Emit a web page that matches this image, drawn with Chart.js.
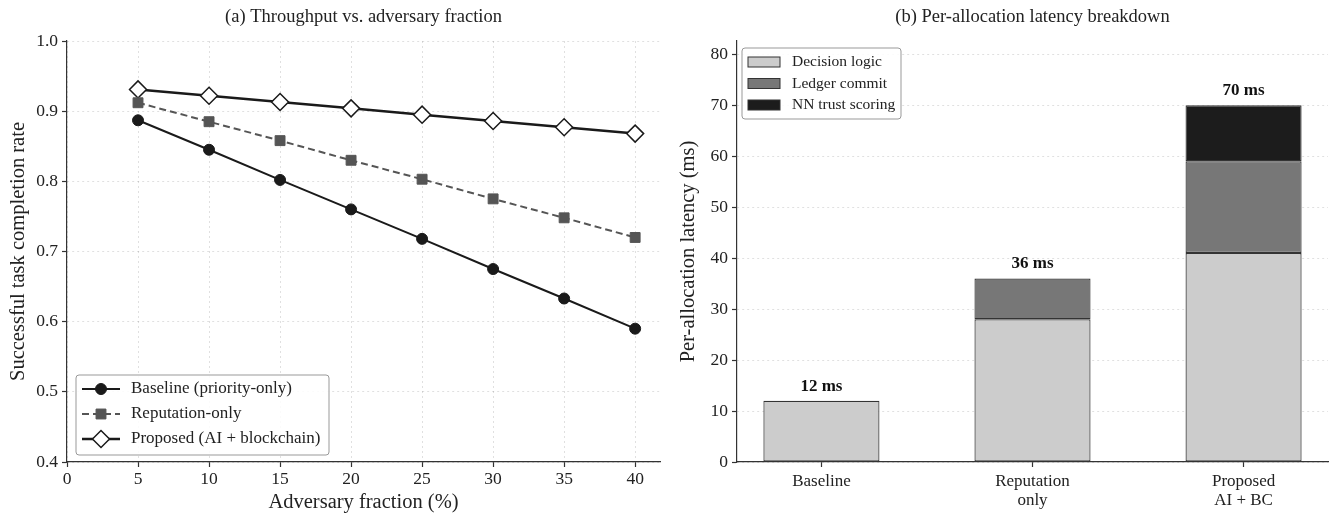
<!DOCTYPE html>
<html>
<head>
<meta charset="utf-8">
<script src="https://cdn.jsdelivr.net/npm/chart.js@4.4.1/dist/chart.umd.min.js"></script>
<style>
  html, body { margin: 0; padding: 0; background: #fff; }
  #wrap { position: relative; width: 1329px; height: 517px; }
  #left { position: absolute; left: 0; top: 0; }
  #right { position: absolute; left: 670px; top: 0; }
</style>
</head>
<body>
<div id="wrap">
  <canvas id="left" width="670" height="517"></canvas>
  <canvas id="right" width="659" height="517"></canvas>
</div>
<script>
// panel (a): completion rate vs adversary fraction
const adversaryPct = [5, 10, 15, 20, 25, 30, 35, 40];
const baselineRate = [0.887, 0.845, 0.802, 0.760, 0.718, 0.675, 0.633, 0.590];
const reputationRate = [0.912, 0.885, 0.858, 0.830, 0.803, 0.775, 0.748, 0.720];
const proposedRate = [0.931, 0.922, 0.913, 0.904, 0.895, 0.886, 0.877, 0.868];

// panel (b): latency breakdown (ms)
const methods = [['Baseline'], ['Reputation', 'only'], ['Proposed', 'AI + BC']];
const decisionMs = [12, 28, 41];
const ledgerMs = [0, 8, 18];
const nnMs = [0, 0, 11];

Chart.defaults.font.family = "'Liberation Serif', 'Times New Roman', serif";
Chart.defaults.color = '#222';
Chart.defaults.animation = false;

const AXIS = '#333';
const GRID = 'rgba(0,0,0,0.12)';
const SERIF = "'Liberation Serif', serif";

const toXY = (xs, ys) => xs.map((x, i) => ({ x: x, y: ys[i] }));

// legend drawn inside the plot, lower left
const lineLegend = {
  id: 'lineLegend',
  afterDraw(chart) {
    const ctx = chart.ctx;
    const a = chart.chartArea;
    const x0 = a.left + 9, y0 = a.bottom - 87, w = 253, h = 80;
    ctx.save();
    ctx.fillStyle = 'rgba(255,255,255,0.85)';
    ctx.strokeStyle = '#999';
    ctx.lineWidth = 1;
    ctx.beginPath();
    ctx.roundRect(x0, y0, w, h, 3);
    ctx.fill();
    ctx.stroke();
    chart.data.datasets.forEach((ds, i) => {
      const y = y0 + 14 + i * 25;
      ctx.strokeStyle = ds.borderColor;
      ctx.lineWidth = ds.borderWidth;
      ctx.setLineDash(ds.borderDash || []);
      ctx.beginPath();
      ctx.moveTo(x0 + 6, y);
      ctx.lineTo(x0 + 44, y);
      ctx.stroke();
      ctx.setLineDash([]);
      ctx.fillStyle = ds.pointBackgroundColor;
      ctx.strokeStyle = ds.pointBorderColor;
      ctx.lineWidth = ds.pointBorderWidth;
      Chart.helpers.drawPoint(ctx, {
        pointStyle: ds.pointStyle, radius: ds.pointRadius,
        rotation: 0, borderWidth: ds.pointBorderWidth
      }, x0 + 25, y);
      ctx.fillStyle = '#222';
      ctx.font = '17px ' + SERIF;
      ctx.textBaseline = 'middle';
      ctx.fillText(ds.label, x0 + 55, y);
    });
    ctx.restore();
  }
};

new Chart(document.getElementById('left'), {
  type: 'line',
  data: {
    datasets: [
      {
        label: 'Baseline (priority-only)',
        data: toXY(adversaryPct, baselineRate),
        borderColor: '#1a1a1a', borderWidth: 2,
        pointStyle: 'circle', pointRadius: 5.5,
        pointBackgroundColor: '#1a1a1a', pointBorderColor: '#1a1a1a', pointBorderWidth: 1
      },
      {
        label: 'Reputation-only',
        data: toXY(adversaryPct, reputationRate),
        borderColor: '#555', borderWidth: 2, borderDash: [7, 4],
        pointStyle: 'rect', pointRadius: 7,
        pointBackgroundColor: '#555', pointBorderColor: '#555', pointBorderWidth: 1
      },
      {
        label: 'Proposed (AI + blockchain)',
        data: toXY(adversaryPct, proposedRate),
        borderColor: '#1a1a1a', borderWidth: 2.5,
        pointStyle: 'rectRot', pointRadius: 8.5,
        pointBackgroundColor: '#fff', pointBorderColor: '#1a1a1a', pointBorderWidth: 1.5
      }
    ]
  },
  options: {
    responsive: false,
    layout: { padding: { left: 0, right: 8, top: 0, bottom: 0 } },
    plugins: {
      legend: { display: false },
      tooltip: { enabled: false },
      title: {
        display: true, fullSize: false,
        text: '(a) Throughput vs. adversary fraction',
        font: { size: 18.5, weight: 'normal' }, color: '#222',
        padding: { top: 6, bottom: 12.8 }
      }
    },
    scales: {
      x: {
        type: 'linear', min: 0, max: 41.75,
        afterFit: s => { s.height = 55; },
        ticks: { stepSize: 5, includeBounds: false, padding: 2, font: { size: 17.5 }, color: '#222' },
        grid: { color: GRID, lineWidth: 1, tickColor: AXIS, tickLength: 5, tickWidth: 1.2 },
        border: { color: AXIS, width: 1.2, dash: [2, 3] },
        title: { display: true, text: 'Adversary fraction (%)', font: { size: 20.5 }, padding: { bottom: 2 } }
      },
      y: {
        min: 0.4, max: 1.0,
        afterFit: s => { s.width = 67; },
        ticks: { stepSize: 0.1, padding: 4, font: { size: 17.5 }, color: '#222', callback: v => v.toFixed(1) },
        grid: { color: GRID, lineWidth: 1, tickColor: AXIS, tickLength: 5, tickWidth: 1.2 },
        border: { color: AXIS, width: 1.2, dash: [2, 3] },
        title: { display: true, text: 'Successful task completion rate', font: { size: 20.5 }, padding: { top: 6 } }
      }
    }
  },
  plugins: [lineLegend]
});

// totals above bars + legend box in the upper left
const barDecor = {
  id: 'barDecor',
  afterDraw(chart) {
    const ctx = chart.ctx;
    const xs = chart.scales.x, ys = chart.scales.y;
    ctx.save();
    ctx.fillStyle = '#111';
    ctx.font = 'bold 17px ' + SERIF;
    ctx.textAlign = 'center';
    ctx.textBaseline = 'bottom';
    decisionMs.forEach((d, i) => {
      const total = d + ledgerMs[i] + nnMs[i];
      ctx.fillText(total + ' ms', xs.getPixelForValue(i), ys.getPixelForValue(total) - 6);
    });
    const a = chart.chartArea;
    const x0 = a.left + 5, y0 = a.top + 7, w = 159, h = 71;
    ctx.fillStyle = 'rgba(255,255,255,0.85)';
    ctx.strokeStyle = '#999';
    ctx.lineWidth = 1;
    ctx.beginPath();
    ctx.roundRect(x0, y0, w, h, 3);
    ctx.fill();
    ctx.stroke();
    ctx.textAlign = 'left';
    ctx.textBaseline = 'middle';
    ctx.font = '15.5px ' + SERIF;
    chart.data.datasets.forEach((ds, i) => {
      const y = y0 + 14 + i * 21.5;
      ctx.fillStyle = ds.backgroundColor;
      ctx.fillRect(x0 + 6, y - 5, 32, 10);
      ctx.strokeStyle = '#333';
      ctx.strokeRect(x0 + 6, y - 5, 32, 10);
      ctx.fillStyle = '#222';
      ctx.fillText(ds.label, x0 + 50, y);
    });
    ctx.restore();
  }
};

const barSet = (label, values, color) => ({
  label: label,
  data: values.map((v, i) => ({ x: i, y: v })),
  backgroundColor: color,
  borderColor: '#333',
  borderWidth: 1.2,
  borderSkipped: false,
  categoryPercentage: 1,
  barPercentage: 0.55
});

new Chart(document.getElementById('right'), {
  type: 'bar',
  data: {
    datasets: [
      barSet('Decision logic', decisionMs, '#cccccc'),
      barSet('Ledger commit', ledgerMs, '#777777'),
      barSet('NN trust scoring', nnMs, '#1c1c1c')
    ]
  },
  options: {
    responsive: false,
    layout: { padding: { left: 0, right: 1, top: 0, bottom: 0 } },
    plugins: {
      legend: { display: false },
      tooltip: { enabled: false },
      title: {
        display: true, fullSize: false,
        text: '(b) Per-allocation latency breakdown',
        font: { size: 18.5, weight: 'normal' }, color: '#222',
        padding: { top: 6, bottom: 12.8 }
      }
    },
    scales: {
      x: {
        type: 'linear', min: -0.4, max: 2.4, stacked: true, offset: false,
        afterFit: s => { s.height = 55; },
        afterBuildTicks: s => { s.ticks = methods.map((m, i) => ({ value: i })); },
        ticks: { padding: 5, font: { size: 17, lineHeight: 1.12 }, color: '#222', callback: v => methods[v] },
        grid: { offset: false, drawOnChartArea: false, tickColor: AXIS, tickLength: 5, tickWidth: 1.2 },
        border: { color: AXIS, width: 1.2 }
      },
      y: {
        min: 0, max: 82.6, stacked: true,
        afterFit: s => { s.width = 67; },
        ticks: { stepSize: 10, includeBounds: false, padding: 4, font: { size: 17.5 }, color: '#222' },
        grid: { color: GRID, lineWidth: 1, tickColor: AXIS, tickLength: 5, tickWidth: 1.2 },
        border: { color: AXIS, width: 1.2, dash: [2, 3] },
        title: { display: true, text: 'Per-allocation latency (ms)', font: { size: 20.5 }, padding: { top: 6 } }
      }
    }
  },
  plugins: [barDecor]
});
</script>
</body>
</html>
